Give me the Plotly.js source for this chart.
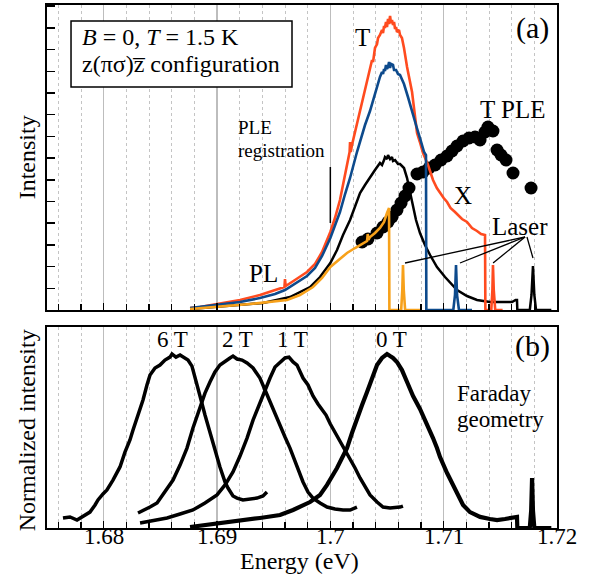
<!DOCTYPE html>
<html><head><meta charset="utf-8">
<script src="https://cdn.plot.ly/plotly-3.0.1.min.js"></script>
<style>html,body{margin:0;padding:0;background:#fff}#chart{width:592px;height:578px}</style>
</head><body><div id="chart"></div>
<script>
// ---------- Panel (a): PL spectra, B = 0 ----------
const redE = [1.68762,1.68850,1.69000,1.69203,1.69379,1.69512,1.69595,1.69600,1.69606,1.69688,1.69794,1.69865,1.69927,1.70000,1.70041,1.70085,1.70121,1.70156,1.70170,1.70174,1.70180,1.70191,1.70227,1.70262,1.70306,1.70350,1.70368,1.70377,1.70394,1.70412,1.70421,1.70438,1.70456,1.70465,1.70474,1.70482,1.70491,1.70500,1.70509,1.70518,1.70527,1.70535,1.70544,1.70553,1.70562,1.70571,1.70580,1.70588,1.70606,1.70615,1.70632,1.70650,1.70677,1.70721,1.70765,1.70790,1.70818,1.70862,1.70906,1.70940,1.70968,1.71000,1.71030,1.71060,1.71100,1.71130,1.71162,1.71206,1.71250,1.71294,1.71330,1.71365,1.71368,1.71420,1.71430,1.71435,1.71442,1.71455,1.71520];
const redI = [2,3,6,10,15,20,23,31,24,30,38,46,58,78,92,110,130,152,158,168,158,165,182,200,222,243,250,248,262,266,272,275,280,277,284,282,288,283,291,286,294,287,290,285,288,281,283,278,280,275,272,262,243,218,177,168,157,145,130,122,117,112,108,102,98,95,91,88,82,79,76,75,0,0,20,45,20,0,0];

const blueE = [1.68762,1.69000,1.69203,1.69379,1.69512,1.69600,1.69688,1.69794,1.69865,1.69927,1.70000,1.70041,1.70085,1.70130,1.70174,1.70235,1.70306,1.70350,1.70377,1.70400,1.70421,1.70438,1.70456,1.70465,1.70474,1.70482,1.70491,1.70500,1.70509,1.70518,1.70527,1.70535,1.70553,1.70562,1.70580,1.70597,1.70615,1.70650,1.70685,1.70721,1.70756,1.70791,1.70827,1.70844,1.70847,1.71085,1.71100,1.71109,1.71118,1.71135,1.71250];
const blueI = [2,5,8,12,16,20,26,34,42,54,72,84,98,116,132,158,185,199,210,220,228,233,238,236,241,239,245,241,243,248,242,246,245,240,240,236,235,226,213,200,185,172,158,155,0,0,15,45,15,0,0];

const blackE = [1.68762,1.69000,1.69406,1.69644,1.69821,1.69909,1.70000,1.70059,1.70112,1.70174,1.70218,1.70262,1.70306,1.70350,1.70394,1.70438,1.70456,1.70474,1.70482,1.70500,1.70509,1.70527,1.70544,1.70553,1.70571,1.70597,1.70615,1.70650,1.70677,1.70703,1.70730,1.70756,1.70791,1.70835,1.70880,1.70941,1.71012,1.71118,1.71206,1.71294,1.71409,1.71524,1.71603,1.71635,1.71647,1.71650,1.71760,1.71775,1.71788,1.71800,1.71815,1.71950];
const blackI = [1,3,7,13,23,33,47,60,75,90,103,117,125,133,140,147,145,150,153,151,155,151,153,149,150,146,146,142,132,118,105,90,77,65,55,43,33,20,14,10,8,8,8,10,10,0,0,15,44,15,0,0];

const orangeE = [1.68762,1.69000,1.69291,1.69618,1.69732,1.69847,1.69927,1.70000,1.70085,1.70147,1.70218,1.70288,1.70324,1.70330,1.70336,1.70350,1.70394,1.70438,1.70474,1.70500,1.70518,1.70521,1.70625,1.70635,1.70641,1.70648,1.70660,1.70800];
const orangeI = [1,3,6,10,15,23,32,43,51,57,62,67,69,76,70,73,77,82,88,97,102,0,0,20,45,20,0,0];

const pleE = [1.70280,1.70332,1.70412,1.70465,1.70509,1.70544,1.70588,1.70624,1.70659,1.70694,1.70765,1.70818,1.70871,1.70924,1.70977,1.71030,1.71074,1.71118,1.71171,1.71224,1.71277,1.71321,1.71365,1.71391,1.71435,1.71471,1.71506,1.71550,1.71612,1.71771];
const pleI = [68,71,77,83,88,93,100,107,114,122,136,138,142,145,150,154,159,164,169,172,173,170,178,183,179,160,155,150,137,122];

// ---------- Panel (b): normalized PL, Faraday geometry ----------
const b6E = [1.67641,1.67703,1.67765,1.67826,1.67879,1.67924,1.67950,1.67994,1.68029,1.68082,1.68118,1.68144,1.68188,1.68232,1.68259,1.68303,1.68347,1.68382,1.68409,1.68453,1.68497,1.68541,1.68585,1.68603,1.68638,1.68674,1.68700,1.68744,1.68779,1.68815,1.68850,1.68894,1.68938,1.68982,1.69026,1.69071,1.69097,1.69141,1.69177,1.69229,1.69291,1.69353,1.69406,1.69441];
const b6I = [0.058,0.064,0.046,0.069,0.092,0.133,0.162,0.197,0.220,0.277,0.324,0.353,0.439,0.509,0.566,0.653,0.740,0.827,0.884,0.925,0.942,0.971,0.988,1.006,0.988,1.000,0.988,0.971,0.936,0.855,0.763,0.653,0.549,0.451,0.353,0.266,0.231,0.185,0.173,0.162,0.168,0.173,0.185,0.208];

const b2E = [1.68303,1.68365,1.68409,1.68471,1.68541,1.68612,1.68674,1.68735,1.68788,1.68850,1.68894,1.68938,1.68982,1.69026,1.69071,1.69115,1.69141,1.69177,1.69221,1.69265,1.69318,1.69379,1.69424,1.69468,1.69512,1.69556,1.69600,1.69644,1.69688,1.69759,1.69803,1.69847,1.69909,1.69971,1.70041,1.70112,1.70174,1.70235];
const b2I = [0.087,0.104,0.121,0.145,0.208,0.277,0.364,0.462,0.578,0.694,0.780,0.844,0.902,0.942,0.965,0.983,0.994,0.977,0.971,0.954,0.925,0.867,0.798,0.728,0.671,0.595,0.526,0.462,0.382,0.266,0.208,0.173,0.145,0.121,0.110,0.104,0.104,0.121];

const b1E = [1.68321,1.68409,1.68497,1.68559,1.68674,1.68788,1.68894,1.69000,1.69071,1.69141,1.69203,1.69265,1.69318,1.69379,1.69424,1.69468,1.69512,1.69556,1.69600,1.69635,1.69671,1.69706,1.69759,1.69803,1.69847,1.69891,1.69927,1.69962,1.70000,1.70041,1.70085,1.70130,1.70174,1.70218,1.70262,1.70306,1.70350,1.70412,1.70465,1.70527,1.70571,1.70615,1.70641];
const b1I = [0.029,0.040,0.052,0.058,0.081,0.104,0.145,0.191,0.249,0.324,0.416,0.520,0.624,0.728,0.798,0.867,0.931,0.960,0.983,0.988,0.960,0.942,0.867,0.827,0.763,0.717,0.682,0.653,0.601,0.555,0.497,0.451,0.405,0.347,0.289,0.237,0.191,0.150,0.121,0.116,0.116,0.121,0.127];

const b0E = [1.68762,1.69141,1.69379,1.69556,1.69671,1.69821,1.69909,1.69971,1.70015,1.70059,1.70103,1.70147,1.70191,1.70235,1.70280,1.70324,1.70368,1.70412,1.70456,1.70482,1.70500,1.70527,1.70553,1.70588,1.70632,1.70677,1.70730,1.70791,1.70853,1.70906,1.70941,1.70968,1.71030,1.71100,1.71171,1.71232,1.71321,1.71409,1.71471,1.71541,1.71603,1.71647,1.71650,1.71760,1.71772,1.71780,1.71788,1.71800,1.71950];
const b0I = [0.006,0.035,0.058,0.075,0.104,0.150,0.191,0.249,0.295,0.347,0.405,0.462,0.549,0.636,0.711,0.786,0.867,0.942,0.983,0.994,1.006,0.994,0.983,0.960,0.913,0.844,0.763,0.688,0.601,0.520,0.462,0.410,0.318,0.220,0.133,0.092,0.064,0.052,0.046,0.052,0.058,0.064,0,0,0.10,0.289,0.10,0,0];

// ---------- Axis ticks ----------
const xTickVals = [1.68,1.69,1.70,1.71,1.72];
const xTickText = ["1.68","1.69","1.7","1.71","1.72"];

const SERIF = "Liberation Serif";
const RED = "#ff4b1f", BLUE = "#0d4a8c", ORANGE = "#f7a11a";

function line(x, y, color, width, xa, ya) {
  return {x: x, y: y, type: "scatter", mode: "lines", xaxis: xa, yaxis: ya,
          line: {color: color, width: width}, hoverinfo: "skip"};
}

const traces = [
  line(blackE, blackI, "#000", 2.5, "x2", "y2"),
  {x: pleE, y: pleI, type: "scatter", mode: "markers", xaxis: "x2", yaxis: "y2",
   marker: {color: "#000", size: 13}, hoverinfo: "skip"},
  line(redE, redI, RED, 2.6, "x2", "y2"),
  line(blueE, blueI, BLUE, 2.6, "x2", "y2"),
  line(orangeE, orangeI, ORANGE, 2.6, "x2", "y2"),
  line(b6E, b6I, "#000", 3.5, "x", "y"),
  line(b2E, b2I, "#000", 3.5, "x", "y"),
  line(b1E, b1I, "#000", 3.5, "x", "y"),
  line(b0E, b0I, "#000", 4.2, "x", "y")
];

const xCommon = {
  range: [1.675, 1.72], showline: true, linecolor: "#000", linewidth: 2, mirror: true,
  zeroline: false, tickmode: "array", tickvals: xTickVals, ticktext: xTickText,
  ticks: "inside", ticklen: 7, tickwidth: 1.5, tickcolor: "#000",
  showgrid: true, gridcolor: "#bdbdbd", gridwidth: 1.5, showticklabels: false,
  minor: {tickmode: "linear", tick0: 1.676, dtick: 0.002, ticks: "inside", ticklen: 6,
          tickwidth: 1.5, tickcolor: "#000", showgrid: true, gridcolor: "#c4c4c4",
          griddash: "dot", gridwidth: 1}
};

function ann(x, y, text, size, xref, yref, extra) {
  return Object.assign({x: x, y: y, xref: xref, yref: yref, text: text, showarrow: false,
    font: {family: SERIF, size: size, color: "#000"}, xanchor: "center", yanchor: "middle"}, extra || {});
}

// x tick labels drawn at the tick values, just below the lower panel
const tickAnns = xTickVals.map((v, i) => ann(v, -0.0172, xTickText[i], 23, "x", "paper", {borderpad: 0}));

const layout = {
  width: 592, height: 578,
  margin: {l: 47, r: 35, t: 5, b: 50},
  paper_bgcolor: "#fff", plot_bgcolor: "#fff",
  font: {family: SERIF, color: "#000"},
  showlegend: false, hovermode: false,
  xaxis: Object.assign({}, xCommon, {anchor: "y", automargin: false}),
  yaxis: {domain: [0, 0.3843], range: [0, 1.162], showline: true, linecolor: "#000",
          linewidth: 2, mirror: true, ticks: "", showticklabels: false, showgrid: false, zeroline: false},
  xaxis2: Object.assign({}, xCommon, {anchor: "y2"}),
  yaxis2: {domain: [0.4168, 1], range: [0, 305], showline: true, linecolor: "#000",
           linewidth: 2, mirror: true, ticks: "inside", ticklen: 8, tickwidth: 1.5,
           tickcolor: "#000", tick0: 0, dtick: 21.7, showticklabels: false,
           showgrid: false, zeroline: false},
  shapes: [
    {type: "rect", xref: "paper", yref: "paper", x0: 0.0471, x1: 0.4804, y0: 0.8432, y1: 0.9694,
     line: {color: "#000", width: 1.5}, fillcolor: "#fff", layer: "above"},
    {type: "line", xref: "x2", yref: "y2", x0: 1.70, x1: 1.70, y0: 87, y1: 143, line: {color: "#000", width: 1.5}},
    {type: "line", xref: "x2", yref: "y2", x0: 1.71718, y0: 73, x1: 1.70659, y1: 47, line: {color: "#000", width: 1.3}},
    {type: "line", xref: "x2", yref: "y2", x0: 1.71718, y0: 73, x1: 1.71144, y1: 47, line: {color: "#000", width: 1.3}},
    {type: "line", xref: "x2", yref: "y2", x0: 1.71718, y0: 73, x1: 1.71436, y1: 47, line: {color: "#000", width: 1.3}},
    {type: "line", xref: "x2", yref: "y2", x0: 1.71735, y0: 73, x1: 1.71788, y1: 52, line: {color: "#000", width: 1.3}}
  ],
  annotations: tickAnns.concat([
    ann(0.0647, 0.9387, "<i>B</i> = 0, <i>T</i> = 1.5 K", 24, "paper", "paper", {xanchor: "left"}),
    ann(0.0647, 0.8872, "z(\u03c0\u03c3)z\u0305 configuration", 24, "paper", "paper", {xanchor: "left"}),
    ann(1.71780, 282, "(a)", 30, "x2", "y2"),
    ann(1.70288, 273, "T", 25, "x2", "y2"),
    ann(1.71612, 201, "T PLE", 25, "x2", "y2"),
    ann(1.71171, 115, "X", 25, "x2", "y2"),
    ann(1.71674, 84, "Laser", 25, "x2", "y2"),
    ann(1.69406, 37, "PL", 25, "x2", "y2"),
    ann(1.69165, 183, "PLE", 19, "x2", "y2", {xanchor: "left"}),
    ann(1.69165, 160, "registration", 19, "x2", "y2", {xanchor: "left"}),
    ann(1.71780, 1.052, "(b)", 30, "x", "y"),
    ann(1.68603, 1.087, "6 T", 23, "x", "y"),
    ann(1.69185, 1.087, "2 T", 23, "x", "y"),
    ann(1.69662, 1.087, "1 T", 23, "x", "y"),
    ann(1.70544, 1.087, "0 T", 23, "x", "y"),
    ann(1.71100, 0.780, "Faraday", 23, "x", "y", {xanchor: "left"}),
    ann(1.71100, 0.630, "geometry", 23, "x", "y", {xanchor: "left"}),
    ann(-0.039, 0.709, "Intensity", 24, "paper", "paper", {textangle: -90}),
    ann(-0.039, 0.187, "Normalized intensity", 24, "paper", "paper", {textangle: -90}),
    ann(0.496, -0.0631, "Energy (eV)", 24, "paper", "paper", {borderpad: 0})
  ])
};

Plotly.newPlot("chart", traces, layout, {staticPlot: true, displayModeBar: false});
</script>
</body></html>
